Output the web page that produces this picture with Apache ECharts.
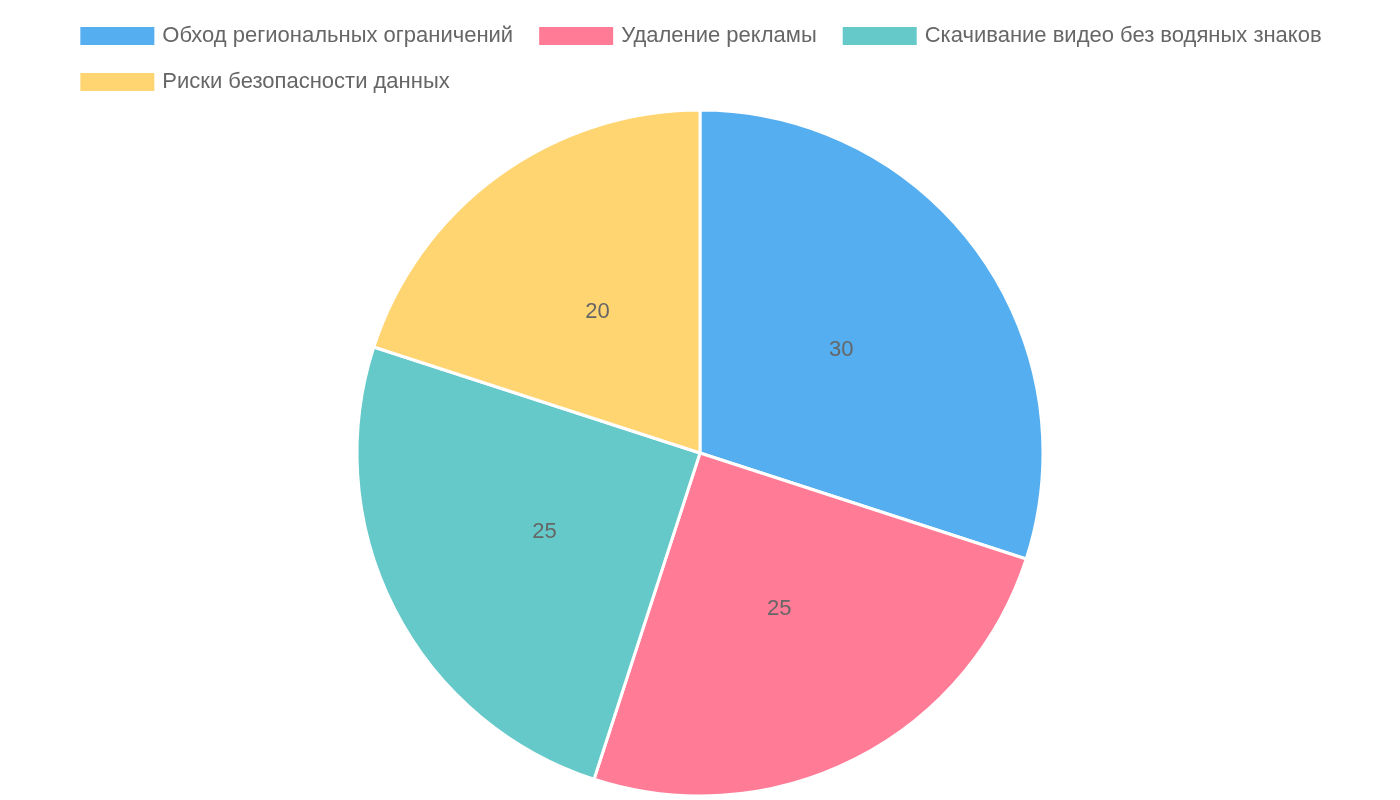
<!DOCTYPE html>
<html><head><meta charset="utf-8">
<script src="https://cdn.jsdelivr.net/npm/echarts@6/dist/echarts.min.js"></script>
<style>html,body{margin:0;padding:0;background:#fff}#c{width:1400px;height:800px}</style>
</head><body><div id="c"></div>
<script>
const categories = ['Обход региональных ограничений','Удаление рекламы','Скачивание видео без водяных знаков','Риски безопасности данных'];
const values = [30,25,25,20];
const colors = ['#54aeef','#ff7b96','#66c9c9','#ffd572'];
const chart = echarts.init(document.getElementById('c'));
chart.setOption({
  animation:false,
  legend:{top:20,left:'center',width:1390,itemWidth:76,itemHeight:20,itemGap:24,
    icon:'rect',textStyle:{fontFamily:'Liberation Sans',fontSize:22,color:'#666',padding:[0,0,0,2]},
    data:categories},
  series:[{type:'pie',center:[700,453],radius:343,startAngle:90,clockwise:true,
    data:categories.map((n,i)=>({name:n,value:values[i],itemStyle:{color:colors[i]}})),
    itemStyle:{borderColor:'#fff',borderWidth:3},
    label:{position:'inside',formatter:'{c}',fontFamily:'Liberation Sans',fontSize:22,color:'#666'},
    labelLine:{show:false},emphasis:{disabled:true}}]
});
</script></body></html>
